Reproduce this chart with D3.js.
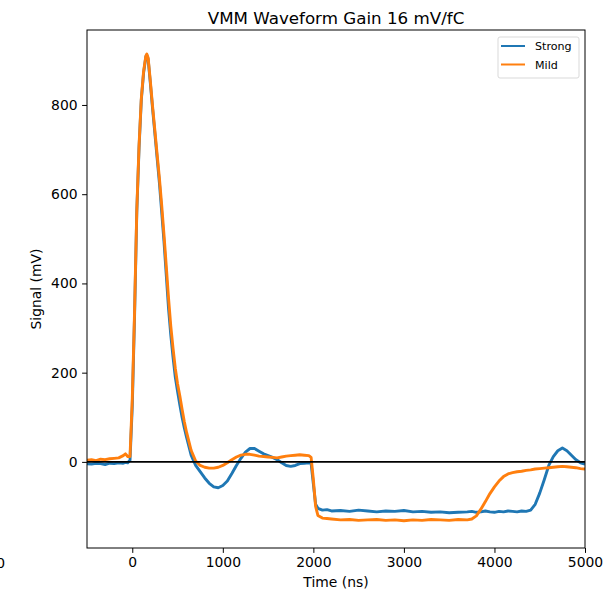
<!DOCTYPE html>
<html>
<head>
<meta charset="utf-8">
<script src="https://cdn.jsdelivr.net/npm/d3@7"></script>
<style>
  html, body { margin: 0; padding: 0; background: #fff; }
  svg { display: block; }
  text { font-family: "DejaVu Sans", sans-serif; fill: #000; }
</style>
</head>
<body>
<svg id="chart" width="615" height="593"></svg>
<script>
// Sample times (ns)
const timeNs = [
  -500, -450, -400, -350, -300, -250, -200, -150, -100, -75, -50, -25,
  0, 25, 50, 75, 100, 125, 150, 160, 175, 200, 225, 250, 275, 300, 325,
  350, 375, 400, 425, 450, 475, 500, 525, 550, 575, 600, 650, 700, 750,
  800, 850, 900, 950, 1000, 1050, 1100, 1150, 1200, 1250, 1300, 1350,
  1400, 1450, 1500, 1550, 1600, 1650, 1700, 1750, 1800, 1850, 1900, 1950,
  1975, 2000, 2025, 2050, 2100, 2150, 2200, 2300, 2400, 2500, 2600, 2700,
  2800, 2900, 3000, 3100, 3200, 3300, 3400, 3500, 3600, 3700, 3750, 3800,
  3850, 3900, 3950, 4000, 4050, 4100, 4150, 4200, 4250, 4300, 4350, 4400,
  4450, 4500, 4550, 4600, 4650, 4700, 4750, 4800, 4850, 4900, 4950, 5000
];

// Signal (mV), strong setting
const strongMv = [
  -4, -5, -3, -4, -6, -3, -4, -2, -3, -1, -2, 4,
  125, 325, 560, 705, 812, 872, 908, 912, 903, 848, 790, 735, 680, 625, 560,
  495, 420, 345, 285, 235, 190, 158, 128, 100, 76, 55, 15, -8, -22,
  -36, -48, -56, -58, -53, -43, -26, -8, 8, 22, 30, 30,
  24, 18, 14, 10, 5, -2, -8, -10, -8, -4, -3, -2,
  -3, -50, -95, -104, -108, -107, -110, -109, -111, -108, -110, -112,
  -110, -111, -109, -112, -111, -113, -112, -114, -113, -112, -111, -113,
  -112, -110, -112, -113, -111, -112, -110, -111, -112, -110, -111, -108,
  -95, -70, -40, -8, 12, 25, 31, 25, 15, 5, -2, -5
];

// Signal (mV), mild setting
const mildMv = [
  4, 5, 3, 6, 5, 7, 8, 9, 14, 18, 12, 12,
  140, 335, 565, 710, 815, 875, 910, 914, 906, 852, 795, 742, 688, 635, 575,
  510, 440, 368, 305, 255, 210, 175, 148, 118, 90, 66, 26, 2, -8,
  -12, -14, -14, -12, -8, -2, 5, 11, 15, 17, 17, 15,
  13, 12, 11, 10, 9, 11, 13, 14, 15, 16, 15, 14,
  10, -40, -100, -120, -126, -127, -128, -130, -129, -131, -130, -129,
  -131, -130, -132, -130, -131, -129, -130, -131, -129, -130, -128, -121,
  -106, -89, -71, -56, -43, -33, -27, -24, -22, -21, -19, -18,
  -16, -15, -14, -13, -12, -11, -10, -11, -12, -13, -15, -16
];

const xTicks = [0, 1000, 2000, 3000, 4000, 5000];
const yTicks = [0, 200, 400, 600, 800];

const series = [
  { name: "Strong", values: strongMv, color: "#1f77b4" },
  { name: "Mild", values: mildMv, color: "#ff7f0e" }
];

const svg = d3.select("#chart");
const plotLeft = 87, plotRight = 585, plotTop = 30, plotBottom = 548;
const tickFont = 13.9;

const x = d3.scaleLinear().domain([-500, 5000]).range([plotLeft, plotRight]);
const y = d3.scaleLinear().domain([-193, 968]).range([plotBottom, plotTop]);

const defs = svg.append("defs");
defs.append("clipPath").attr("id", "plot-clip")
  .append("rect").attr("x", plotLeft).attr("y", plotTop)
  .attr("width", plotRight - plotLeft).attr("height", plotBottom - plotTop);

// Waveforms
const plot = svg.append("g").attr("clip-path", "url(#plot-clip)");
series.forEach(s => {
  const line = d3.line()
    .x((d, i) => x(timeNs[i]))
    .y(d => y(d));
  plot.append("path")
    .datum(s.values)
    .attr("fill", "none")
    .attr("stroke", s.color)
    .attr("stroke-width", 2.9)
    .attr("stroke-linejoin", "round")
    .attr("d", line);
});

// Zero reference line
plot.append("line")
  .attr("x1", plotLeft).attr("x2", plotRight)
  .attr("y1", y(0)).attr("y2", y(0))
  .attr("stroke", "#000").attr("stroke-width", 1.8);

// Axes
const xAxis = d3.axisBottom(x).tickValues(xTicks).tickSize(4.9).tickPadding(4.5)
  .tickFormat(d3.format("d"));
const yAxis = d3.axisLeft(y).tickValues(yTicks).tickSize(4.9).tickPadding(4.5)
  .tickFormat(d3.format("d"));

const gx = svg.append("g").attr("transform", `translate(0,${plotBottom})`).call(xAxis);
const gy = svg.append("g").attr("transform", `translate(${plotLeft},0)`).call(yAxis);
[gx, gy].forEach(g => {
  g.select(".domain").remove();
  g.selectAll("text").attr("font-size", tickFont).attr("font-family", "DejaVu Sans").attr("fill", "#000");
  g.selectAll("line").attr("stroke", "#000").attr("stroke-width", 1);
});

// Frame
svg.append("rect")
  .attr("x", plotLeft).attr("y", plotTop)
  .attr("width", plotRight - plotLeft).attr("height", plotBottom - plotTop)
  .attr("fill", "none").attr("stroke", "#000").attr("stroke-width", 1);

// Neighbouring tick label at the left margin
svg.append("text")
  .attr("x", 5).attr("y", 568)
  .attr("text-anchor", "end")
  .attr("font-size", tickFont)
  .text("5000");

// Title and axis labels
svg.append("text")
  .attr("x", (plotLeft + plotRight) / 2).attr("y", 24)
  .attr("text-anchor", "middle")
  .attr("font-size", 16.7)
  .text("VMM Waveform Gain 16 mV/fC");

svg.append("text")
  .attr("x", (plotLeft + plotRight) / 2).attr("y", 587)
  .attr("text-anchor", "middle")
  .attr("font-size", tickFont)
  .text("Time (ns)");

svg.append("text")
  .attr("transform", `translate(41,${(plotTop + plotBottom) / 2}) rotate(-90)`)
  .attr("text-anchor", "middle")
  .attr("font-size", tickFont)
  .text("Signal (mV)");

// Legend
const lg = svg.append("g");
lg.append("rect")
  .attr("x", 498).attr("y", 37).attr("width", 81).attr("height", 41)
  .attr("rx", 2)
  .attr("fill", "#fff").attr("fill-opacity", 0.8)
  .attr("stroke", "#d9d9d9").attr("stroke-width", 1);
series.forEach((s, i) => {
  const yy = 46 + i * 18.5;
  lg.append("line")
    .attr("x1", 501).attr("x2", 525).attr("y1", yy).attr("y2", yy)
    .attr("stroke", s.color).attr("stroke-width", 2);
  lg.append("text")
    .attr("x", 535).attr("y", yy + 4)
    .attr("font-size", 11.1)
    .text(s.name);
});
</script>
</body>
</html>
